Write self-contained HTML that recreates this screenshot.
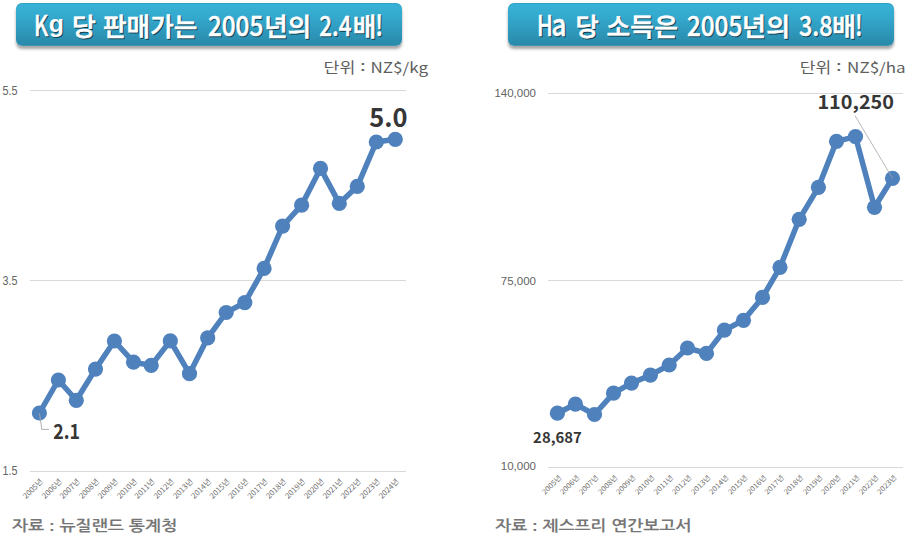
<!DOCTYPE html>
<html><head><meta charset="utf-8">
<style>
html,body{margin:0;padding:0;background:#fff;}
body{width:920px;height:543px;position:relative;overflow:hidden;}
.ban{position:absolute;top:3px;height:43px;border-radius:6px;
 background:linear-gradient(#37b3d7 0%,#33a8cc 35%,#2b8fb0 85%,#2a89aa 100%);
 box-shadow:0 3px 3px rgba(0,0,0,0.35), inset 0 1px 0 rgba(0,60,90,0.15), inset 0 -1px 0 rgba(255,255,255,0.12);}
svg text{font-family:"Liberation Sans","NanumGothic","Noto Sans CJK KR",sans-serif;}
.tt{font-family:"Noto Sans CJK KR",sans-serif !important;font-weight:500;font-size:25.5px;fill:#fff;stroke:#fff;stroke-width:0.6px;}
.tt.ts{fill:rgba(0,0,0,0.55);stroke:rgba(0,0,0,0.55);}
.tt.lt{font-size:28px;stroke-width:0.5px;}
.tt.lib{font-family:"Liberation Sans",sans-serif !important;font-weight:700;stroke-width:0;}
.yl{font-size:12.8px;fill:#636363;}
.yl2{font-size:11.5px;fill:#636363;}
.xl{fill:#6c6c6c;font-family:"Noto Sans CJK KR",sans-serif !important;}
.dl{font-family:"Noto Sans CJK KR",sans-serif !important;font-weight:700;fill:#363636;}
.unit{font-family:"Noto Sans CJK KR",sans-serif !important;font-weight:400;fill:#5e5e5e;}
.src{font-weight:700;fill:#767676;}
</style></head><body>
<div class="ban" style="left:16px;width:386px"></div>
<div class="ban" style="left:508px;width:386px"></div>
<svg width="920" height="543" viewBox="0 0 920 543" style="position:absolute;left:0;top:0">
<line x1="30" y1="90.5" x2="406" y2="90.5" stroke="#d9d9d9" stroke-width="1"/><line x1="30" y1="280.5" x2="406" y2="280.5" stroke="#d9d9d9" stroke-width="1"/><line x1="30" y1="471.5" x2="406" y2="471.5" stroke="#d9d9d9" stroke-width="1"/><line x1="548" y1="93.5" x2="903" y2="93.5" stroke="#d9d9d9" stroke-width="1"/><line x1="548" y1="280.5" x2="903" y2="280.5" stroke="#d9d9d9" stroke-width="1"/><line x1="548" y1="467.5" x2="903" y2="467.5" stroke="#d9d9d9" stroke-width="1"/>
<text x="17.6" y="94.6" text-anchor="end" class="yl" textLength="15" lengthAdjust="spacingAndGlyphs">5.5</text><text x="17.6" y="285.4" text-anchor="end" class="yl" textLength="15" lengthAdjust="spacingAndGlyphs">3.5</text><text x="17.6" y="475.4" text-anchor="end" class="yl" textLength="15" lengthAdjust="spacingAndGlyphs">1.5</text><text x="536" y="97.4" text-anchor="end" class="yl2">140,000</text><text x="536" y="285" text-anchor="end" class="yl2">75,000</text><text x="536" y="470.4" text-anchor="end" class="yl2">10,000</text>
<path d="M39.4,413.0 L58.4,380.0 L76.3,400.3 L95.5,369.1 L114.4,341.0 L133.5,362.2 L151.2,365.4 L170.3,340.9 L189.5,373.7 L207.7,337.8 L226.2,312.5 L244.8,302.6 L264.1,268.4 L282.6,226.1 L301.6,205.2 L320.5,168.4 L339.3,203.4 L357.3,186.3 L376.3,142.0 L395.3,139.3" fill="none" stroke="#4f81bd" stroke-width="5.5" stroke-linejoin="round" stroke-linecap="round"/>
<circle cx="39.4" cy="413.0" r="7.6" fill="#4f81bd"/>
<circle cx="58.4" cy="380.0" r="7.6" fill="#4f81bd"/>
<circle cx="76.3" cy="400.3" r="7.6" fill="#4f81bd"/>
<circle cx="95.5" cy="369.1" r="7.6" fill="#4f81bd"/>
<circle cx="114.4" cy="341.0" r="7.6" fill="#4f81bd"/>
<circle cx="133.5" cy="362.2" r="7.6" fill="#4f81bd"/>
<circle cx="151.2" cy="365.4" r="7.6" fill="#4f81bd"/>
<circle cx="170.3" cy="340.9" r="7.6" fill="#4f81bd"/>
<circle cx="189.5" cy="373.7" r="7.6" fill="#4f81bd"/>
<circle cx="207.7" cy="337.8" r="7.6" fill="#4f81bd"/>
<circle cx="226.2" cy="312.5" r="7.6" fill="#4f81bd"/>
<circle cx="244.8" cy="302.6" r="7.6" fill="#4f81bd"/>
<circle cx="264.1" cy="268.4" r="7.6" fill="#4f81bd"/>
<circle cx="282.6" cy="226.1" r="7.6" fill="#4f81bd"/>
<circle cx="301.6" cy="205.2" r="7.6" fill="#4f81bd"/>
<circle cx="320.5" cy="168.4" r="7.6" fill="#4f81bd"/>
<circle cx="339.3" cy="203.4" r="7.6" fill="#4f81bd"/>
<circle cx="357.3" cy="186.3" r="7.6" fill="#4f81bd"/>
<circle cx="376.3" cy="142.0" r="7.6" fill="#4f81bd"/>
<circle cx="395.3" cy="139.3" r="7.6" fill="#4f81bd"/>
<path d="M557.4,413.2 L575.4,404.2 L594.5,414.5 L613.5,393.2 L631.5,383.1 L650.4,375.2 L669.2,365.0 L687.5,348.0 L706.5,353.4 L724.4,330.2 L743.5,320.3 L762.5,297.4 L780.0,267.3 L799.2,219.3 L818.4,187.3 L836.5,141.3 L855.5,136.6 L874.5,207.3 L892.5,178.3" fill="none" stroke="#4f81bd" stroke-width="5.5" stroke-linejoin="round" stroke-linecap="round"/>
<circle cx="557.4" cy="413.2" r="7.6" fill="#4f81bd"/>
<circle cx="575.4" cy="404.2" r="7.6" fill="#4f81bd"/>
<circle cx="594.5" cy="414.5" r="7.6" fill="#4f81bd"/>
<circle cx="613.5" cy="393.2" r="7.6" fill="#4f81bd"/>
<circle cx="631.5" cy="383.1" r="7.6" fill="#4f81bd"/>
<circle cx="650.4" cy="375.2" r="7.6" fill="#4f81bd"/>
<circle cx="669.2" cy="365.0" r="7.6" fill="#4f81bd"/>
<circle cx="687.5" cy="348.0" r="7.6" fill="#4f81bd"/>
<circle cx="706.5" cy="353.4" r="7.6" fill="#4f81bd"/>
<circle cx="724.4" cy="330.2" r="7.6" fill="#4f81bd"/>
<circle cx="743.5" cy="320.3" r="7.6" fill="#4f81bd"/>
<circle cx="762.5" cy="297.4" r="7.6" fill="#4f81bd"/>
<circle cx="780.0" cy="267.3" r="7.6" fill="#4f81bd"/>
<circle cx="799.2" cy="219.3" r="7.6" fill="#4f81bd"/>
<circle cx="818.4" cy="187.3" r="7.6" fill="#4f81bd"/>
<circle cx="836.5" cy="141.3" r="7.6" fill="#4f81bd"/>
<circle cx="855.5" cy="136.6" r="7.6" fill="#4f81bd"/>
<circle cx="874.5" cy="207.3" r="7.6" fill="#4f81bd"/>
<circle cx="892.5" cy="178.3" r="7.6" fill="#4f81bd"/>

<text x="43.4" y="482" transform="rotate(-45 43.4 482)" text-anchor="end" class="xl" font-size="7.5" textLength="24.5" lengthAdjust="spacingAndGlyphs">2005년</text>
<text x="62.4" y="482" transform="rotate(-45 62.4 482)" text-anchor="end" class="xl" font-size="7.5" textLength="24.5" lengthAdjust="spacingAndGlyphs">2006년</text>
<text x="80.3" y="482" transform="rotate(-45 80.3 482)" text-anchor="end" class="xl" font-size="7.5" textLength="24.5" lengthAdjust="spacingAndGlyphs">2007년</text>
<text x="99.5" y="482" transform="rotate(-45 99.5 482)" text-anchor="end" class="xl" font-size="7.5" textLength="24.5" lengthAdjust="spacingAndGlyphs">2008년</text>
<text x="118.4" y="482" transform="rotate(-45 118.4 482)" text-anchor="end" class="xl" font-size="7.5" textLength="24.5" lengthAdjust="spacingAndGlyphs">2009년</text>
<text x="137.5" y="482" transform="rotate(-45 137.5 482)" text-anchor="end" class="xl" font-size="7.5" textLength="24.5" lengthAdjust="spacingAndGlyphs">2010년</text>
<text x="155.2" y="482" transform="rotate(-45 155.2 482)" text-anchor="end" class="xl" font-size="7.5" textLength="24.5" lengthAdjust="spacingAndGlyphs">2011년</text>
<text x="174.3" y="482" transform="rotate(-45 174.3 482)" text-anchor="end" class="xl" font-size="7.5" textLength="24.5" lengthAdjust="spacingAndGlyphs">2012년</text>
<text x="193.5" y="482" transform="rotate(-45 193.5 482)" text-anchor="end" class="xl" font-size="7.5" textLength="24.5" lengthAdjust="spacingAndGlyphs">2013년</text>
<text x="211.7" y="482" transform="rotate(-45 211.7 482)" text-anchor="end" class="xl" font-size="7.5" textLength="24.5" lengthAdjust="spacingAndGlyphs">2014년</text>
<text x="230.2" y="482" transform="rotate(-45 230.2 482)" text-anchor="end" class="xl" font-size="7.5" textLength="24.5" lengthAdjust="spacingAndGlyphs">2015년</text>
<text x="248.8" y="482" transform="rotate(-45 248.8 482)" text-anchor="end" class="xl" font-size="7.5" textLength="24.5" lengthAdjust="spacingAndGlyphs">2016년</text>
<text x="268.1" y="482" transform="rotate(-45 268.1 482)" text-anchor="end" class="xl" font-size="7.5" textLength="24.5" lengthAdjust="spacingAndGlyphs">2017년</text>
<text x="286.6" y="482" transform="rotate(-45 286.6 482)" text-anchor="end" class="xl" font-size="7.5" textLength="24.5" lengthAdjust="spacingAndGlyphs">2018년</text>
<text x="305.6" y="482" transform="rotate(-45 305.6 482)" text-anchor="end" class="xl" font-size="7.5" textLength="24.5" lengthAdjust="spacingAndGlyphs">2019년</text>
<text x="324.5" y="482" transform="rotate(-45 324.5 482)" text-anchor="end" class="xl" font-size="7.5" textLength="24.5" lengthAdjust="spacingAndGlyphs">2020년</text>
<text x="343.3" y="482" transform="rotate(-45 343.3 482)" text-anchor="end" class="xl" font-size="7.5" textLength="24.5" lengthAdjust="spacingAndGlyphs">2021년</text>
<text x="361.3" y="482" transform="rotate(-45 361.3 482)" text-anchor="end" class="xl" font-size="7.5" textLength="24.5" lengthAdjust="spacingAndGlyphs">2022년</text>
<text x="380.3" y="482" transform="rotate(-45 380.3 482)" text-anchor="end" class="xl" font-size="7.5" textLength="24.5" lengthAdjust="spacingAndGlyphs">2023년</text>
<text x="399.3" y="482" transform="rotate(-45 399.3 482)" text-anchor="end" class="xl" font-size="7.5" textLength="24.5" lengthAdjust="spacingAndGlyphs">2024년</text>
<text x="561.9" y="478" transform="rotate(-45 561.9 478)" text-anchor="end" class="xl" font-size="7" textLength="24" lengthAdjust="spacingAndGlyphs">2005년</text>
<text x="579.9" y="478" transform="rotate(-45 579.9 478)" text-anchor="end" class="xl" font-size="7" textLength="24" lengthAdjust="spacingAndGlyphs">2006년</text>
<text x="599.0" y="478" transform="rotate(-45 599.0 478)" text-anchor="end" class="xl" font-size="7" textLength="24" lengthAdjust="spacingAndGlyphs">2007년</text>
<text x="618.0" y="478" transform="rotate(-45 618.0 478)" text-anchor="end" class="xl" font-size="7" textLength="24" lengthAdjust="spacingAndGlyphs">2008년</text>
<text x="636.0" y="478" transform="rotate(-45 636.0 478)" text-anchor="end" class="xl" font-size="7" textLength="24" lengthAdjust="spacingAndGlyphs">2009년</text>
<text x="654.9" y="478" transform="rotate(-45 654.9 478)" text-anchor="end" class="xl" font-size="7" textLength="24" lengthAdjust="spacingAndGlyphs">2010년</text>
<text x="673.7" y="478" transform="rotate(-45 673.7 478)" text-anchor="end" class="xl" font-size="7" textLength="24" lengthAdjust="spacingAndGlyphs">2011년</text>
<text x="692.0" y="478" transform="rotate(-45 692.0 478)" text-anchor="end" class="xl" font-size="7" textLength="24" lengthAdjust="spacingAndGlyphs">2012년</text>
<text x="711.0" y="478" transform="rotate(-45 711.0 478)" text-anchor="end" class="xl" font-size="7" textLength="24" lengthAdjust="spacingAndGlyphs">2013년</text>
<text x="728.9" y="478" transform="rotate(-45 728.9 478)" text-anchor="end" class="xl" font-size="7" textLength="24" lengthAdjust="spacingAndGlyphs">2014년</text>
<text x="748.0" y="478" transform="rotate(-45 748.0 478)" text-anchor="end" class="xl" font-size="7" textLength="24" lengthAdjust="spacingAndGlyphs">2015년</text>
<text x="767.0" y="478" transform="rotate(-45 767.0 478)" text-anchor="end" class="xl" font-size="7" textLength="24" lengthAdjust="spacingAndGlyphs">2016년</text>
<text x="784.5" y="478" transform="rotate(-45 784.5 478)" text-anchor="end" class="xl" font-size="7" textLength="24" lengthAdjust="spacingAndGlyphs">2017년</text>
<text x="803.7" y="478" transform="rotate(-45 803.7 478)" text-anchor="end" class="xl" font-size="7" textLength="24" lengthAdjust="spacingAndGlyphs">2018년</text>
<text x="822.9" y="478" transform="rotate(-45 822.9 478)" text-anchor="end" class="xl" font-size="7" textLength="24" lengthAdjust="spacingAndGlyphs">2019년</text>
<text x="841.0" y="478" transform="rotate(-45 841.0 478)" text-anchor="end" class="xl" font-size="7" textLength="24" lengthAdjust="spacingAndGlyphs">2020년</text>
<text x="860.0" y="478" transform="rotate(-45 860.0 478)" text-anchor="end" class="xl" font-size="7" textLength="24" lengthAdjust="spacingAndGlyphs">2021년</text>
<text x="879.0" y="478" transform="rotate(-45 879.0 478)" text-anchor="end" class="xl" font-size="7" textLength="24" lengthAdjust="spacingAndGlyphs">2022년</text>
<text x="897.0" y="478" transform="rotate(-45 897.0 478)" text-anchor="end" class="xl" font-size="7" textLength="24" lengthAdjust="spacingAndGlyphs">2023년</text>

<polyline points="39.5,413.3 41.8,429.4 49,429.4" fill="none" stroke="#a6a6a6" stroke-width="0.9"/><line x1="855" y1="115.6" x2="892.5" y2="178.3" stroke="#a6a6a6" stroke-width="0.8"/>
<text x="53.3" y="438.52" class="dl" font-size="20.97" textLength="26.76" lengthAdjust="spacingAndGlyphs">2.1</text><text x="369.28" y="127.32" class="dl" font-size="25.47" textLength="38.36" lengthAdjust="spacingAndGlyphs">5.0</text><text x="533.14" y="442.5" class="dl" font-size="14.51" textLength="48.75" lengthAdjust="spacingAndGlyphs">28,687</text><text x="817.42" y="109.32" class="dl" font-size="18.83" textLength="76.59" lengthAdjust="spacingAndGlyphs">110,250</text>
<text x="323.52" y="73.2" class="unit" font-size="14.5" textLength="31.76" lengthAdjust="spacingAndGlyphs">단위</text><text x="359.96" y="71.4" class="unit" font-size="14.5" textLength="5.64" lengthAdjust="spacingAndGlyphs">:</text><text x="370.52" y="73.2" class="unit" font-size="14.5" textLength="57.5" lengthAdjust="spacingAndGlyphs">NZ$/kg</text><text x="799.86" y="73.2" class="unit" font-size="14.5" textLength="31.42" lengthAdjust="spacingAndGlyphs">단위</text><text x="835.96" y="71.4" class="unit" font-size="14.5" textLength="5.64" lengthAdjust="spacingAndGlyphs">:</text><text x="847.08" y="73.2" class="unit" font-size="14.5" textLength="58.62" lengthAdjust="spacingAndGlyphs">NZ$/ha</text>
<text x="12.0" y="531.3" class="src" font-size="15" textLength="165.13" lengthAdjust="spacingAndGlyphs">자료 : 뉴질랜드 통계청</text><text x="495.21" y="531.3" class="src" font-size="15" textLength="196.2" lengthAdjust="spacingAndGlyphs">자료 : 제스프리 연간보고서</text>
<text x="35.0" y="37.1" class="tt lt ts" textLength="14.2" lengthAdjust="spacingAndGlyphs">K</text><text x="34.0" y="36.1" class="tt lt" textLength="14.2" lengthAdjust="spacingAndGlyphs">K</text>
<text x="49.7" y="33.2" class="tt lt lib ts" transform="translate(0 3.984) scale(1 0.88)" textLength="15.2" lengthAdjust="spacingAndGlyphs">g</text><text x="48.7" y="32.2" class="tt lt lib" transform="translate(0 3.864) scale(1 0.88)" textLength="15.2" lengthAdjust="spacingAndGlyphs">g</text>
<text x="72.9" y="37.1" class="tt ts" textLength="23.9" lengthAdjust="spacingAndGlyphs">당</text><text x="71.9" y="36.1" class="tt" textLength="23.9" lengthAdjust="spacingAndGlyphs">당</text>
<text x="104.02" y="37.1" class="tt ts" textLength="94.28" lengthAdjust="spacingAndGlyphs">판매가는</text><text x="103.02" y="36.1" class="tt" textLength="94.28" lengthAdjust="spacingAndGlyphs">판매가는</text>
<text x="208.88" y="37.1" class="tt lt ts" textLength="55.42" lengthAdjust="spacingAndGlyphs">2005</text><text x="207.88" y="36.1" class="tt lt" textLength="55.42" lengthAdjust="spacingAndGlyphs">2005</text>
<text x="265.22" y="37.1" class="tt ts" textLength="46.98" lengthAdjust="spacingAndGlyphs">년의</text><text x="264.22" y="36.1" class="tt" textLength="46.98" lengthAdjust="spacingAndGlyphs">년의</text>
<text x="320.26" y="37.1" class="tt lt ts" textLength="32.3" lengthAdjust="spacingAndGlyphs">2.4</text><text x="319.26" y="36.1" class="tt lt" textLength="32.3" lengthAdjust="spacingAndGlyphs">2.4</text>
<text x="353.66" y="37.1" class="tt ts" textLength="23.62" lengthAdjust="spacingAndGlyphs">배</text><text x="352.66" y="36.1" class="tt" textLength="23.62" lengthAdjust="spacingAndGlyphs">배</text>
<text x="376.34" y="37.1" class="tt lt ts" textLength="7.82" lengthAdjust="spacingAndGlyphs">!</text><text x="375.34" y="36.1" class="tt lt" textLength="7.82" lengthAdjust="spacingAndGlyphs">!</text>
<text x="538.1" y="37.1" class="tt lt ts" textLength="15.8" lengthAdjust="spacingAndGlyphs">H</text><text x="537.1" y="36.1" class="tt lt" textLength="15.8" lengthAdjust="spacingAndGlyphs">H</text>
<text x="552.4" y="37.5" class="tt lt ts" transform="translate(0 -4.500) scale(1 1.12)" textLength="15.0" lengthAdjust="spacingAndGlyphs">a</text><text x="551.4" y="36.5" class="tt lt" transform="translate(0 -4.380) scale(1 1.12)" textLength="15.0" lengthAdjust="spacingAndGlyphs">a</text>
<text x="576.46" y="37.1" class="tt ts" textLength="23.34" lengthAdjust="spacingAndGlyphs">당</text><text x="575.46" y="36.1" class="tt" textLength="23.34" lengthAdjust="spacingAndGlyphs">당</text>
<text x="607.52" y="37.1" class="tt ts" textLength="71.52" lengthAdjust="spacingAndGlyphs">소득은</text><text x="606.52" y="36.1" class="tt" textLength="71.52" lengthAdjust="spacingAndGlyphs">소득은</text>
<text x="687.88" y="37.1" class="tt lt ts" textLength="55.48" lengthAdjust="spacingAndGlyphs">2005</text><text x="686.88" y="36.1" class="tt lt" textLength="55.48" lengthAdjust="spacingAndGlyphs">2005</text>
<text x="743.1" y="37.1" class="tt ts" textLength="48.1" lengthAdjust="spacingAndGlyphs">년의</text><text x="742.1" y="36.1" class="tt" textLength="48.1" lengthAdjust="spacingAndGlyphs">년의</text>
<text x="799.88" y="37.1" class="tt lt ts" textLength="33.6" lengthAdjust="spacingAndGlyphs">3.8</text><text x="798.88" y="36.1" class="tt lt" textLength="33.6" lengthAdjust="spacingAndGlyphs">3.8</text>
<text x="832.9" y="37.1" class="tt ts" textLength="24.12" lengthAdjust="spacingAndGlyphs">배</text><text x="831.9" y="36.1" class="tt" textLength="24.12" lengthAdjust="spacingAndGlyphs">배</text>
<text x="856.02" y="37.1" class="tt lt ts" textLength="7.64" lengthAdjust="spacingAndGlyphs">!</text><text x="855.02" y="36.1" class="tt lt" textLength="7.64" lengthAdjust="spacingAndGlyphs">!</text>

</svg>
</body></html>
